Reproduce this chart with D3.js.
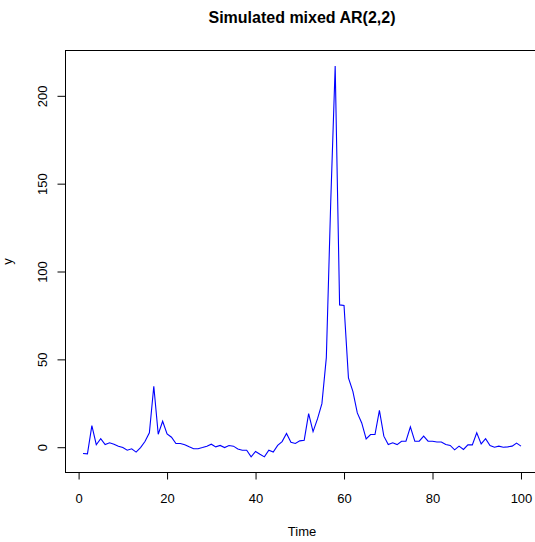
<!DOCTYPE html>
<html>
<head>
<meta charset="utf-8">
<script src="https://cdn.jsdelivr.net/npm/d3@7"></script>
<style>
  body { margin: 0; background: #fff; }
  text { font-family: "Liberation Sans", Arial, sans-serif; }
</style>
</head>
<body>
<div id="chart"></div>
<script>
// Series values (y at time 1..100)
var yValues = [
  -3.6, -3.8, 12.3, 1.4, 4.8, 1.5, 2.5, 1.7, 0.6, -0.2,
  -1.7, -0.9, -2.8, -0.2, 3.2, 8.2, 34.7, 7.4, 14.8, 7.6,
  5.7, 2.1, 2.1, 1.4, 0.2, -0.9, -0.9, -0.2, 0.6, 1.7,
  0.2, 1.0, -0.2, 1.0, 0.6, -1.0, -1.7, -1.7, -5.5, -2.4,
  -4.0, -5.5, -1.7, -2.8, 1.0, 3.2, 7.8, 2.8, 2.1, 3.6,
  4.0, 19.1, 8.9, 16.1, 24.8, 51.0, 140.0, 216.9, 81.0, 80.7,
  39.5, 31.8, 19.5, 13.8, 4.7, 7.2, 7.2, 21.0, 6.3, 1.5,
  2.5, 1.5, 3.4, 3.4, 11.6, 3.4, 3.4, 6.3, 3.4, 3.4,
  3.0, 3.0, 1.5, 1.0, -1.5, 0.6, -1.3, 1.3, 1.3, 8.2,
  1.9, 4.9, 1.0, 0.0, 0.6, 0.0, 0.2, 0.6, 2.3, 0.6
];
var xTicks = [0, 20, 40, 60, 80, 100];
var yTicks = [0, 50, 100, 150, 200];
var title = "Simulated mixed AR(2,2)";

// Dimensions of the plot box
var w = 535, h = 542;
var box = {left: 65.5, top: 50.5, right: 538.5, bottom: 472.5};

var svg = d3.select("#chart")
  .append("svg")
    .attr("width", w)
    .attr("height", h);

// R style scales: data range extended by 4% on each side
var xMin = 1, xMax = yValues.length;
var xPad = (xMax - xMin) * 0.04;
var yExt = d3.extent(yValues);
var yPad = (yExt[1] - yExt[0]) * 0.04;
var xScale = d3.scaleLinear().domain([xMin - xPad, xMax + xPad]).range([box.left, box.right]);
var yScale = d3.scaleLinear().domain([yExt[0] - yPad, yExt[1] + yPad]).range([box.bottom, box.top]);

// X axis
var xAxis = d3.axisBottom(xScale).tickValues(xTicks).tickSize(7).tickPadding(14).tickFormat(d3.format("d"));
var gx = svg.append("g")
  .attr("transform", "translate(0," + box.bottom + ")")
  .call(xAxis);
gx.select(".domain").remove();
gx.selectAll("line").attr("stroke", "#000");
gx.selectAll("text")
  .attr("font-size", "13px")
  .attr("fill", "#000")
  .attr("font-family", "Liberation Sans, Arial, sans-serif");

// Y axis, labels rotated like R
var yAxis = d3.axisLeft(yScale).tickValues(yTicks).tickSize(8).tickFormat(d3.format("d"));
var gy = svg.append("g")
  .attr("transform", "translate(" + box.left + ",0)")
  .call(yAxis);
gy.select(".domain").remove();
gy.selectAll("line").attr("stroke", "#000");
gy.selectAll("text")
  .attr("x", null)
  .attr("dy", null)
  .attr("transform", "translate(-19,0) rotate(-90)")
  .attr("text-anchor", "middle")
  .attr("font-size", "13px")
  .attr("fill", "#000")
  .attr("font-family", "Liberation Sans, Arial, sans-serif");

// Plot box
svg.append("rect")
  .attr("x", box.left)
  .attr("y", box.top)
  .attr("width", box.right - box.left)
  .attr("height", box.bottom - box.top)
  .attr("fill", "none")
  .attr("stroke", "#000")
  .attr("stroke-width", 1);

// Series line
var line = d3.line()
  .x(function(d, i) { return xScale(i + 1); })
  .y(function(d) { return yScale(d); });

svg.append("path")
  .datum(yValues)
  .attr("d", line)
  .attr("fill", "none")
  .attr("stroke", "#0000ff")
  .attr("stroke-width", 1.1);

var cx = (box.left + box.right) / 2;

// Title
svg.append("text")
  .attr("x", cx)
  .attr("y", 23)
  .attr("text-anchor", "middle")
  .attr("font-size", "16px")
  .attr("font-weight", 700)
  .text(title);

// X label
svg.append("text")
  .attr("x", cx)
  .attr("y", 536)
  .attr("text-anchor", "middle")
  .attr("font-size", "13px")
  .text("Time");

// Y label
svg.append("text")
  .attr("transform", "translate(12," + ((box.top + box.bottom) / 2) + ") rotate(-90)")
  .attr("text-anchor", "middle")
  .attr("font-size", "13px")
  .text("y");
</script>
</body>
</html>
